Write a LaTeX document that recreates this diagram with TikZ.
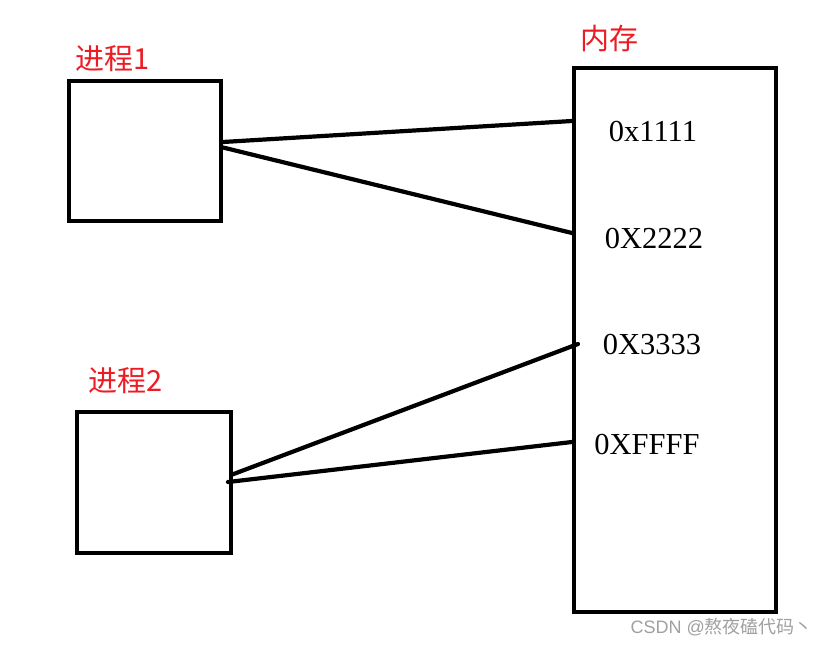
\documentclass[tikz,border=0pt]{standalone}
\usepackage{fontspec}
\setmainfont{Liberation Serif}
\newfontfamily\cjk{Noto Sans CJK SC}
\newfontfamily\wmsans{Liberation Sans}
\definecolor{pred}{RGB}{237,28,36}
\definecolor{wmgray}{RGB}{160,160,160}
\tikzset{
  box/.style={draw=black, line width=4.5pt, inner sep=0pt, fill=white},
  link/.style={line width=4.2pt, line cap=round},
  title/.style={text=pred, inner sep=0pt, font=\cjk\fontsize{29}{32}\selectfont},
  addr/.style={inner sep=0pt, font=\fontsize{30.5}{34}\selectfont},
}
\begin{document}
\begin{tikzpicture}[x=1pt,y=-1pt]
\useasboundingbox (0,0) rectangle (826,647);
\fill[white] (0,0) rectangle (826,647);
% boxes
\node[box, minimum width=152pt, minimum height=140pt] (p1) at (145,151) {};
\node[box, minimum width=154pt, minimum height=141pt] (p2) at (154,482.5) {};
\node[box, minimum width=202pt, minimum height=544pt] (mem) at (675,340) {};
% titles
\node[title] (t1) at (113,59) {进程1};
\node[title] (t2) at (126,381) {进程2};
\node[title] (tm) at (609,39) {内存};
% addresses
\node[addr] (a1) at (653,132) {0x1111};
\node[addr] (a2) at (654,239) {0X2222};
\node[addr] (a3) at (652,345) {0X3333};
\node[addr] (a4) at (647,445) {0XFFFF};
% connector end points
\coordinate (p1a) at (223,142);
\coordinate (p1b) at (221,147);
\coordinate (p2a) at (231,475);
\coordinate (p2b) at (228,482);
\coordinate (m1) at (572,121);
\coordinate (m2) at (572,233);
\coordinate (m3) at (578,344);
\coordinate (m4) at (572,442);
\draw[link] (p1a) -- (m1);
\draw[link] (p1b) -- (m2);
\draw[link] (p2a) -- (m3);
\draw[link] (p2b) -- (m4);
% watermark
\node[text=wmgray, inner sep=0pt, anchor=east] (wm) at (813,627) {\wmsans\fontsize{18}{20}\selectfont CSDN @{\cjk 熬夜磕代码丶}};
\end{tikzpicture}
\end{document}
